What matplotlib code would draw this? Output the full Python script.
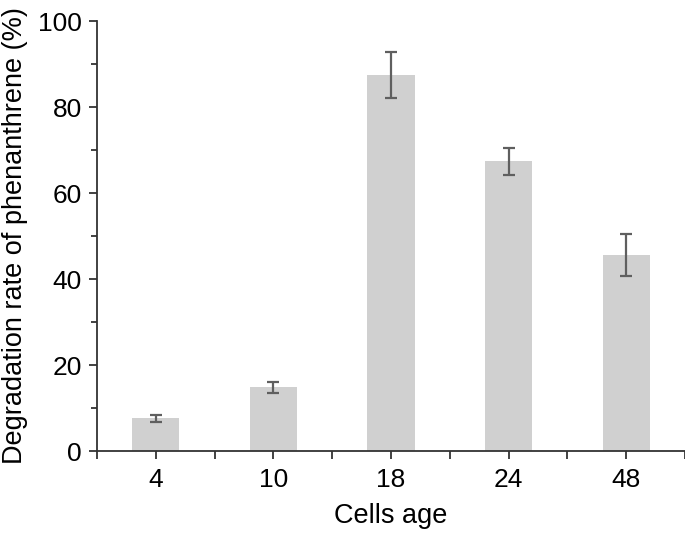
import matplotlib.pyplot as plt
from matplotlib.ticker import MultipleLocator, FixedLocator

plt.rcParams['font.family'] = ['Liberation Sans', 'DejaVu Sans']

cells_age = ['4', '10', '18', '24', '48']
degradation = [7.6, 14.8, 87.4, 67.4, 45.6]
errors = [0.85, 1.35, 5.4, 3.15, 4.85]

fig = plt.figure(figsize=(6.85, 5.33), dpi=100)
ax = fig.add_axes([0.1416, 0.1538, 0.8584, 0.8068])

pos = list(range(len(cells_age)))
ax.bar(pos, degradation, width=0.4, color='#d0d0d0',
       yerr=errors, capsize=4.5,
       error_kw=dict(ecolor='#5f5f5f', elinewidth=1.6, capthick=1.6))

ax.set_xlim(-0.5, len(cells_age) - 0.5)
ax.set_ylim(0, 100)
ax.set_xticks(pos)
ax.set_xticklabels(cells_age)
ax.xaxis.set_minor_locator(FixedLocator([p - 0.5 for p in range(len(cells_age) + 1)]))
ax.yaxis.set_major_locator(MultipleLocator(20))
ax.yaxis.set_minor_locator(MultipleLocator(10))

for s in ['top', 'right']:
    ax.spines[s].set_visible(False)
for s in ['left', 'bottom']:
    ax.spines[s].set_linewidth(1.3)
    ax.spines[s].set_color('#333333')

ax.tick_params(axis='both', which='major', length=6, width=1.3, color='#333333',
               labelsize=19, pad=5)
ax.tick_params(axis='x', which='major', pad=6)
ax.tick_params(axis='both', which='minor', length=4.5, width=1.3, color='#333333')
ax.tick_params(axis='x', which='minor', length=6)

ax.set_xlabel('Cells age', fontsize=19.5, labelpad=8)
ax.set_ylabel('Degradation rate of phenanthrene (%)', fontsize=19.5, labelpad=7)

fig.savefig('out.png', dpi=100)
